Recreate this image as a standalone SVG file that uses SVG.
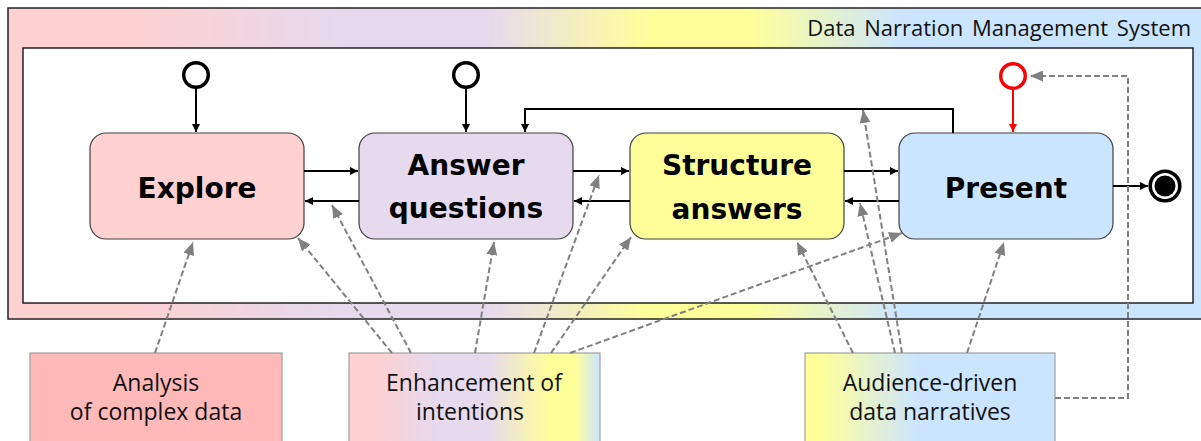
<svg xmlns="http://www.w3.org/2000/svg" width="1201" height="441" viewBox="0 0 1201 441">
<defs>
<linearGradient id="gOuter" gradientUnits="userSpaceOnUse" x1="8" y1="0" x2="1201" y2="0">
<stop offset="0" stop-color="#FFD1D1"/>
<stop offset="0.1" stop-color="#FFD1D1"/>
<stop offset="0.28" stop-color="#E6DAEE"/>
<stop offset="0.4" stop-color="#E6DAEE"/>
<stop offset="0.54" stop-color="#FFFF99"/>
<stop offset="0.62" stop-color="#FFFF99"/>
<stop offset="0.75" stop-color="#CCE5FF"/>
<stop offset="1" stop-color="#CCE5FF"/>
</linearGradient>
<linearGradient id="gEnh" gradientUnits="userSpaceOnUse" x1="349" y1="0" x2="600" y2="0">
<stop offset="0" stop-color="#FFD1D1"/>
<stop offset="0.1" stop-color="#FFD1D1"/>
<stop offset="0.35" stop-color="#E6DAEE"/>
<stop offset="0.55" stop-color="#E6DAEE"/>
<stop offset="0.8" stop-color="#FFFF99"/>
<stop offset="0.9" stop-color="#FFFF99"/>
<stop offset="1" stop-color="#CCE5FF"/>
</linearGradient>
<linearGradient id="gAud" gradientUnits="userSpaceOnUse" x1="805" y1="0" x2="1055" y2="0">
<stop offset="0" stop-color="#FFFF99"/>
<stop offset="0.06" stop-color="#FFFF99"/>
<stop offset="0.45" stop-color="#CCE5FF"/>
<stop offset="1" stop-color="#CCE5FF"/>
</linearGradient>
<marker id="ab" viewBox="0 0 8 8" refX="8" refY="4" markerWidth="8" markerHeight="8" markerUnits="userSpaceOnUse" orient="auto">
<path d="M0,0 L8,4 L0,8 z" fill="#000"/>
</marker>
<marker id="ar" viewBox="0 0 8 8" refX="8" refY="4" markerWidth="8" markerHeight="8" markerUnits="userSpaceOnUse" orient="auto">
<path d="M0,0 L8,4 L0,8 z" fill="#FF0000"/>
</marker>
<marker id="ag" viewBox="0 0 13 11" refX="13" refY="5.5" markerWidth="13" markerHeight="11" markerUnits="userSpaceOnUse" orient="auto">
<path d="M0,0 L13,5.5 L0,11 z" fill="#808080"/>
</marker>
</defs>
<style>
.node{stroke:#404040;stroke-width:1.2}
.bold{font-family:"DejaVu Sans",sans-serif;font-weight:bold;font-size:28px;text-anchor:middle;fill:#000}
.reg{font-family:"Open Sans",sans-serif;font-size:23px;text-anchor:middle;fill:#111}
.solid{fill:none;stroke:#000;stroke-width:2}
.dash{fill:none;stroke:#808080;stroke-width:2;stroke-dasharray:6,3}
.lab{stroke:#A0A0A0;stroke-width:1.2}
</style>
<g id="system">
<rect x="8" y="8" width="1200" height="311" fill="url(#gOuter)" stroke="#222" stroke-width="1.5"/>
<rect x="23" y="48" width="1170" height="255" fill="#fff" stroke="#222" stroke-width="1.5"/>
<text x="1191" y="36" style="font-family:'Open Sans',sans-serif;font-size:22px;word-spacing:3px;text-anchor:end;fill:#111">Data Narration Management System</text>
</g>
<g id="init1"><circle cx="196" cy="75" r="12.3" fill="#fff" stroke="#000" stroke-width="3.4"/></g>
<g id="init2"><circle cx="466" cy="75" r="12.3" fill="#fff" stroke="#000" stroke-width="3.4"/></g>
<g id="init3"><circle cx="1013" cy="76" r="12.3" fill="#fff" stroke="#FF0000" stroke-width="3.4"/></g>
<g id="final"><circle cx="1165" cy="186" r="14.8" fill="#fff" stroke="#000" stroke-width="3.6"/><circle cx="1165" cy="186" r="10.5" fill="#000"/></g>
<g id="explore"><rect class="node" x="90" y="133" width="214" height="106" rx="16" fill="#FFD1D1"/><text class="bold" x="197" y="198">Explore</text></g>
<g id="answer"><rect class="node" x="359" y="133" width="214" height="106" rx="16" fill="#E6DAEE"/><text class="bold" x="466" y="175">Answer</text><text class="bold" x="466" y="218">questions</text></g>
<g id="structure"><rect class="node" x="630" y="133" width="214" height="106" rx="16" fill="#FFFF99"/><text class="bold" x="737" y="175">Structure</text><text class="bold" x="737" y="219">answers</text></g>
<g id="present"><rect class="node" x="899" y="133" width="214" height="106" rx="16" fill="#CCE5FF"/><text class="bold" x="1006" y="198">Present</text></g>
<g id="analysis"><rect class="lab" x="30" y="353" width="252" height="95" fill="#FFB9B9"/><text class="reg" x="156" y="391">Analysis</text><text class="reg" x="156" y="420">of complex data</text></g>
<g id="enhancement"><rect class="lab" x="349" y="353" width="251" height="95" fill="url(#gEnh)"/><text class="reg" x="474" y="391">Enhancement of</text><text class="reg" x="470" y="420">intentions</text></g>
<g id="audience"><rect class="lab" x="805" y="353" width="250" height="95" fill="url(#gAud)"/><text class="reg" x="930" y="391">Audience-driven</text><text class="reg" x="930" y="420">data narratives</text></g>
<g id="connectors">
<line class="solid" x1="196" y1="88" x2="196" y2="132" marker-end="url(#ab)"/>
<line class="solid" x1="466" y1="88" x2="466" y2="132" marker-end="url(#ab)"/>
<line x1="1013" y1="89" x2="1013" y2="132" stroke="#FF0000" stroke-width="2" marker-end="url(#ar)"/>
<polyline class="solid" points="953,133 953,109 525,109 525,132" marker-end="url(#ab)"/>
<line class="solid" x1="304" y1="171" x2="358" y2="171" marker-end="url(#ab)"/>
<line class="solid" x1="359" y1="201" x2="305" y2="201" marker-end="url(#ab)"/>
<line class="solid" x1="573" y1="171" x2="629" y2="171" marker-end="url(#ab)"/>
<line class="solid" x1="630" y1="201" x2="574" y2="201" marker-end="url(#ab)"/>
<line class="solid" x1="844" y1="171" x2="898" y2="171" marker-end="url(#ab)"/>
<line class="solid" x1="899" y1="201" x2="845" y2="201" marker-end="url(#ab)"/>
<line class="solid" x1="1113" y1="186" x2="1148" y2="186" marker-end="url(#ab)"/>
<line class="dash" x1="155" y1="353" x2="193" y2="242" marker-end="url(#ag)"/>
<line class="dash" x1="392" y1="353" x2="298" y2="238" marker-end="url(#ag)"/>
<line class="dash" x1="411" y1="353" x2="332" y2="205" marker-end="url(#ag)"/>
<line class="dash" x1="475" y1="353" x2="494" y2="242" marker-end="url(#ag)"/>
<line class="dash" x1="534" y1="353" x2="599" y2="175" marker-end="url(#ag)"/>
<line class="dash" x1="551" y1="353" x2="631" y2="237" marker-end="url(#ag)"/>
<line class="dash" x1="570" y1="353" x2="902" y2="233" marker-end="url(#ag)"/>
<line class="dash" x1="853" y1="353" x2="797" y2="242" marker-end="url(#ag)"/>
<line class="dash" x1="895" y1="353" x2="860" y2="203" marker-end="url(#ag)"/>
<line class="dash" x1="902" y1="353" x2="863" y2="110" marker-end="url(#ag)"/>
<line class="dash" x1="967" y1="353" x2="1004" y2="242" marker-end="url(#ag)"/>
<polyline class="dash" points="1055,398 1128,398 1128,76 1030,76" marker-end="url(#ag)"/>
</g>
</svg>
